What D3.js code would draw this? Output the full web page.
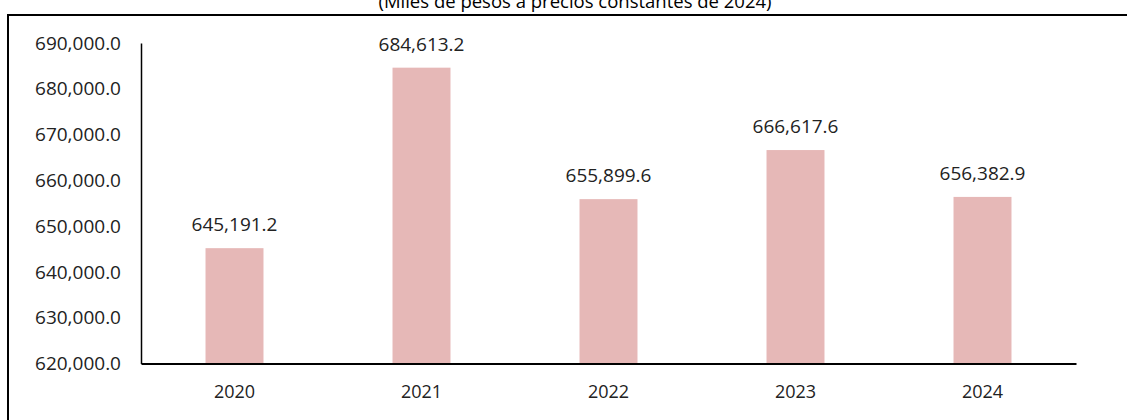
<!DOCTYPE html>
<html>
<head>
<meta charset="utf-8">
<script src="https://cdn.jsdelivr.net/npm/d3@7"></script>
<style>
  body { margin: 0; background: #fff; }
  svg { display: block; font-family: "Open Sans", "Noto Sans", sans-serif; }
</style>
</head>
<body>
<div id="chart"></div>
<script>
// chart data
const years = ["2020", "2021", "2022", "2023", "2024"];
const values = [645191.2, 684613.2, 655899.6, 666617.6, 656382.9];
const yTicks = [620000, 630000, 640000, 650000, 660000, 670000, 680000, 690000];
const subtitle = "(Miles de pesos a precios constantes de 2024)";

const width = 1127, height = 420;
const margin = { top: 43, right: 51, bottom: 56.5, left: 141 };

const svg = d3.select("#chart").append("svg")
  .attr("width", width)
  .attr("height", height);

// outer frame (cut off at right and bottom)
svg.append("rect")
  .attr("x", 8).attr("y", 15)
  .attr("width", width + 20).attr("height", height + 20)
  .attr("fill", "none")
  .attr("stroke", "#000")
  .attr("stroke-width", 2);

svg.append("text")
  .attr("x", 575).attr("y", 8)
  .attr("text-anchor", "middle")
  .attr("font-size", 18.5)
  .attr("fill", "#000")
  .text(subtitle);

const x = d3.scaleBand()
  .domain(years)
  .range([margin.left, width - margin.right])
  .paddingInner(0.69)
  .paddingOuter(0.345);

const y = d3.scaleLinear()
  .domain([620000, 690000])
  .range([height - margin.bottom, margin.top]);

const fmt = d3.format(",.1f");

// bars
svg.selectAll("rect.bar")
  .data(values)
  .enter()
  .append("rect")
    .attr("class", "bar")
    .attr("x", (d, i) => x(years[i]))
    .attr("y", d => y(d))
    .attr("width", x.bandwidth())
    .attr("height", d => y(620000) - y(d))
    .attr("fill", "#e6b8b7");

// value labels
svg.selectAll("text.val")
  .data(values)
  .enter()
  .append("text")
    .attr("class", "val")
    .attr("x", (d, i) => x(years[i]) + x.bandwidth() / 2)
    .attr("y", d => y(d) - 17)
    .attr("text-anchor", "middle")
    .attr("font-size", 19)
    .attr("fill", "#222")
    .text(d => fmt(d));

// y axis
const yAxis = svg.append("g")
  .attr("transform", `translate(${margin.left},0)`)
  .call(d3.axisLeft(y).tickValues(yTicks).tickFormat(fmt).tickSize(0).tickPadding(20));
yAxis.select(".domain").attr("stroke", "#000").attr("stroke-width", 1.5);
yAxis.selectAll("text").attr("font-size", 19).attr("fill", "#222")
  .attr("font-family", "Open Sans, Noto Sans, sans-serif");

// x axis
const xAxis = svg.append("g")
  .attr("transform", `translate(0,${y(620000)})`)
  .call(d3.axisBottom(x).tickSize(0).tickPadding(22));
xAxis.select(".domain").attr("stroke", "#000").attr("stroke-width", 2);
xAxis.selectAll("text").attr("font-size", 18).attr("fill", "#222")
  .attr("font-family", "Open Sans, Noto Sans, sans-serif");
</script>
</body>
</html>
